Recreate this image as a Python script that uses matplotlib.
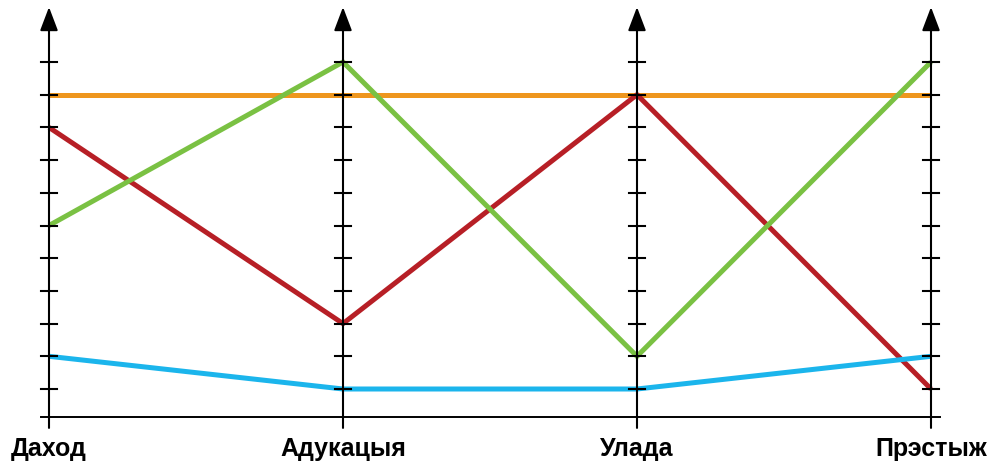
"""Parallel-coordinates chart: four social strata dimensions (Belarusian labels)."""
import matplotlib
matplotlib.use("Agg")
import matplotlib.pyplot as plt

dimensions = ["Даход", "Адукацыя", "Улада", "Прэстыж"]
tick_values = list(range(1, 12))

orange = [10, 10, 10, 10]
red = [9, 3, 10, 1]
green = [6, 11, 2, 11]
blue = [2, 1, 1, 2]

series = [
    (orange, "#EE961E"),
    (red, "#B71F26"),
    (green, "#7AC143"),
    (blue, "#1BB5EC"),
]

fig = plt.figure(figsize=(9.98, 4.62), dpi=100)
ax = fig.add_axes([0, 0, 1, 1])
ax.set_xlim(-49 / 294, (998 - 49) / 294)
ax.set_ylim(1 - 73 / 32.7, 1 + 389 / 32.7)
ax.axis("off")

xs = list(range(len(dimensions)))
for values, color in series:
    ax.plot(xs, values, color=color, linewidth=3.6, solid_capstyle="butt",
            solid_joinstyle="miter", zorder=2)

base_y = 0.144
ax.plot([-0.027, 3.03], [base_y, base_y], color="black", linewidth=1.4, zorder=3)

half = 8 / 294
for i, name in enumerate(dimensions):
    ax.annotate("", xy=(i, 12.68), xytext=(i, -0.19),
                arrowprops=dict(arrowstyle="-|>,head_length=1.45,head_width=0.55",
                                mutation_scale=10, color="black", lw=1.5,
                                shrinkA=0, shrinkB=0),
                zorder=4)
    for t in tick_values:
        ax.plot([i - half, i + half], [t, t], color="black", linewidth=1.5, zorder=3)
    ax.text(i, -1.05, name, ha="center", va="baseline", fontsize=18,
            fontweight="bold", family="Liberation Sans")

fig.savefig("out.png", dpi=100)
